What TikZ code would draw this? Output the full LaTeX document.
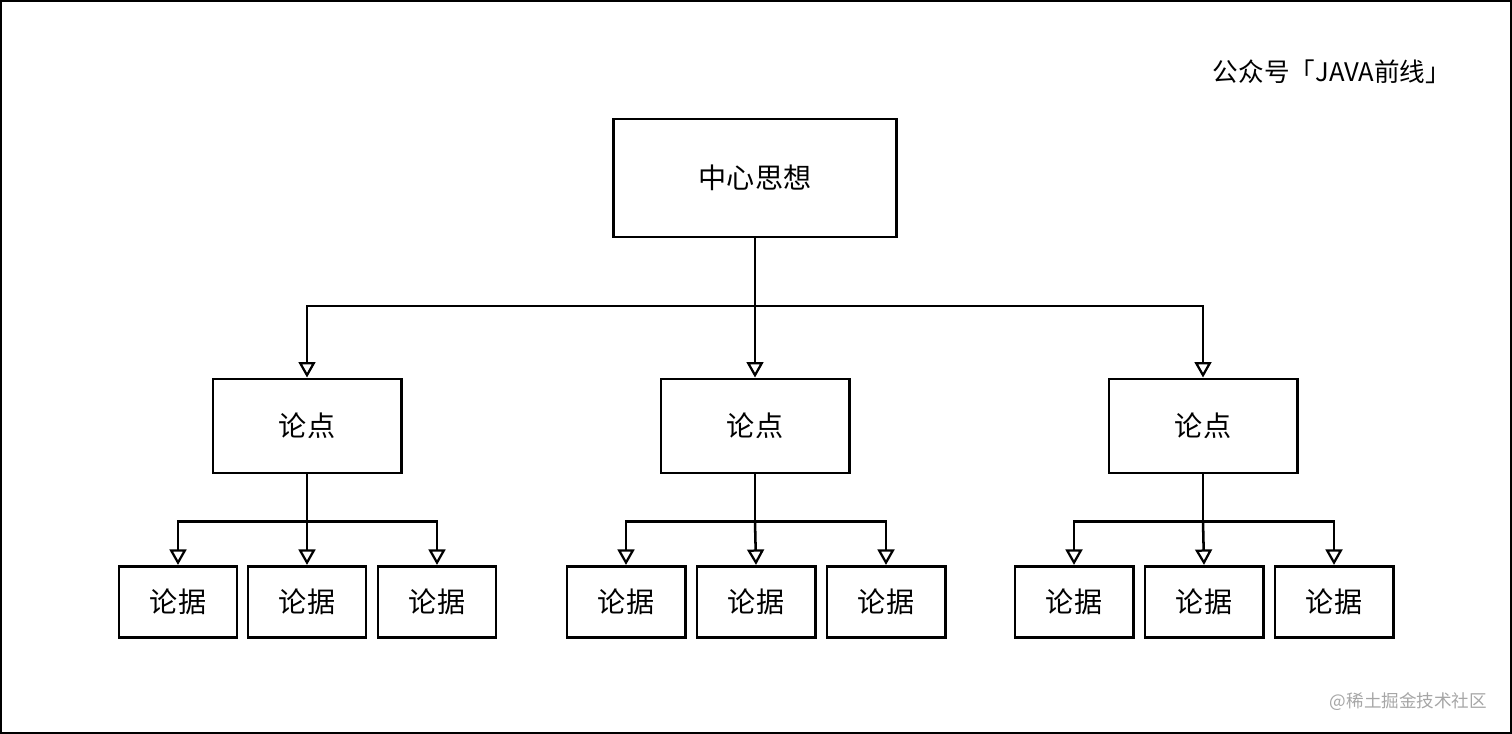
\documentclass[tikz,border=0pt]{standalone}
\usepackage{fontspec}
\setmainfont{Noto Sans CJK SC}
\usepackage{tikz}
\usetikzlibrary{arrows.meta,calc,positioning}

\tikzset{
	box/.style={draw=black,line width=2.1pt,fill=white,inner sep=0pt,font=\fontsize{20}{24}\selectfont},
	mainbox/.style={box,minimum width=7.05cm,minimum height=2.95cm},
	pointbox/.style={box,minimum width=4.7cm,minimum height=2.35cm},
	proofbox/.style={box,minimum width=2.95cm,minimum height=1.78cm},
	arr/.style={line width=1.8pt,-{Triangle[open,length=11pt,width=12pt,line width=1.6pt]}},
	link/.style={line width=1.8pt},
}

\begin{document}
\begin{tikzpicture}[x=0.025cm,y=-0.025cm]
		\useasboundingbox (0,0) rectangle (1512,734);
		\draw[line width=1.4pt] (1,1) rectangle (1511,733);
		\node[anchor=west,font=\fontsize{18.2}{22}\selectfont] (brand) at (1208,72) {公众号「JAVA前线」};
		\node[anchor=east,text=black!35,font=\fontsize{12.5}{15}\selectfont] (mark) at (1492,702) {@稀土掘金技术社区};
		% centre idea
		\node[mainbox] (main) at (755,178) {中心思想};
		% three points
		\node[pointbox] (p1) at (307,426) {论点};
		\node[pointbox] (p2) at (755,426) {论点};
		\node[pointbox] (p3) at (1203,426) {论点};
		\coordinate (j0) at (755,306);
		\draw[link] (main.south) -- (j0);
		\draw[arr] (j0) -| (p1.north);
		\draw[arr] (j0) -- (p2.north);
		\draw[arr] (j0) -| (p3.north);
		% proofs under each point
		\foreach \p/\a/\b/\c in {p1/178/307/437,p2/626/756/886,p3/1074/1204/1334}{
			\node[proofbox] (\p a) at (\a,602) {论据};
			\node[proofbox] (\p b) at (\b,602) {论据};
			\node[proofbox] (\p c) at (\c,602) {论据};
			\coordinate (\p j) at ($(\p.south)+(0,47)$);
			\draw[link] (\p.south) -- (\p j);
			\draw[arr] (\p j) -| (\p a.north);
			\draw[arr] (\p j) -- (\p b.north);
			\draw[arr] (\p j) -| (\p c.north);
		}
\end{tikzpicture}
\end{document}
